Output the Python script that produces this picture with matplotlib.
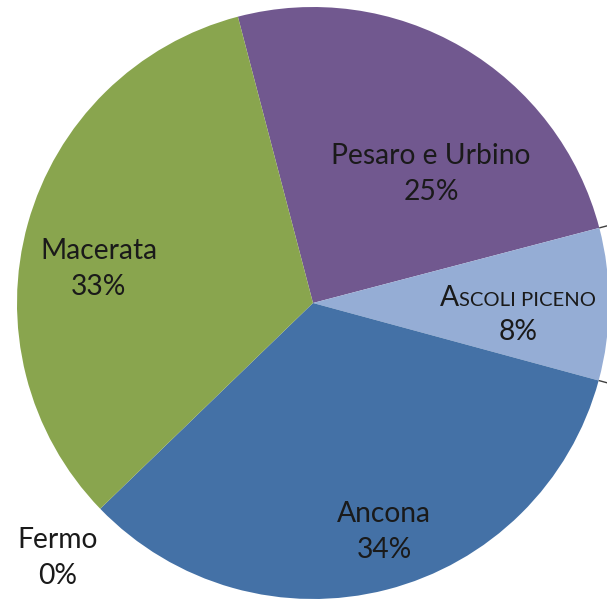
import matplotlib
matplotlib.use("Agg")
import matplotlib.pyplot as plt
import numpy as np

# ---- data ----
provinces = ["Pesaro e Urbino", "Ascoli Piceno", "Ancona", "Fermo", "Macerata"]
shares = [25.0, 8.3, 33.55, 0.0, 33.15]
colors = ["#71588F", "#95ADD5", "#4471A6", "#FFFFFF", "#89A54E"]

W, H = 607, 600
fig = plt.figure(figsize=(W / 100, H / 100), dpi=100)
ax = fig.add_axes([0, 0, 1, 1])

cx, cy, R = 313, H - 303, 296
start = 104.7
wedges, _ = ax.pie(shares, colors=colors, startangle=start, counterclock=False,
                   center=(cx, cy), radius=R, frame=True,
                   wedgeprops=dict(linewidth=0))
ax.set_xlim(0, W)
ax.set_ylim(0, H)
ax.set_aspect("auto")
ax.axis("off")

# short leader ticks at the right-hand slice boundaries
cum = np.cumsum([0] + shares)
for idx in (1, 2):
    ang = np.deg2rad(start - cum[idx] / 100 * 360)
    ax.plot([cx + R * np.cos(ang), cx + (R + 14) * np.cos(ang)],
            [cy + R * np.sin(ang), cy + (R + 14) * np.sin(ang)],
            color="#404040", lw=1.0, solid_capstyle="butt")

FONT = "Lato"
FS = 20.3
tc = "#1a1a1a"

def pct(v):
    return f"{v:.0f}%"

label_pos = {
    "Pesaro e Urbino": (431, H - 174),
    "Ancona": (384, H - 532),
    "Fermo": (58, H - 558),
    "Macerata": (99, H - 269),
}
for name, v in zip(provinces, shares):
    if name in label_pos:
        x, y = label_pos[name]
        ax.text(x, y, f"{name}\n{pct(v)}", ha="center", va="center",
                fontsize=FS, family=FONT, color=tc, linespacing=1.5,
                multialignment="center")

# Ascoli Piceno label in small caps
ai = provinces.index("Ascoli Piceno")
fig.canvas.draw()
r = fig.canvas.get_renderer()
base_y = H - 306
tA = ax.text(0, base_y, "A", fontsize=FS, family=FONT, color=tc,
             ha="left", va="baseline")
tB = ax.text(0, base_y, "SCOLI PICENO", fontsize=FS * 0.72, family=FONT, color=tc,
             ha="left", va="baseline")
wA = tA.get_window_extent(r).width
wB = tB.get_window_extent(r).width
x0 = 518 - (wA + wB) / 2
tA.set_x(x0)
tB.set_x(x0 + wA)
ax.text(518, H - 332, pct(shares[ai]), fontsize=FS, family=FONT, color=tc,
        ha="center", va="center")

fig.savefig("out.png", dpi=100)
